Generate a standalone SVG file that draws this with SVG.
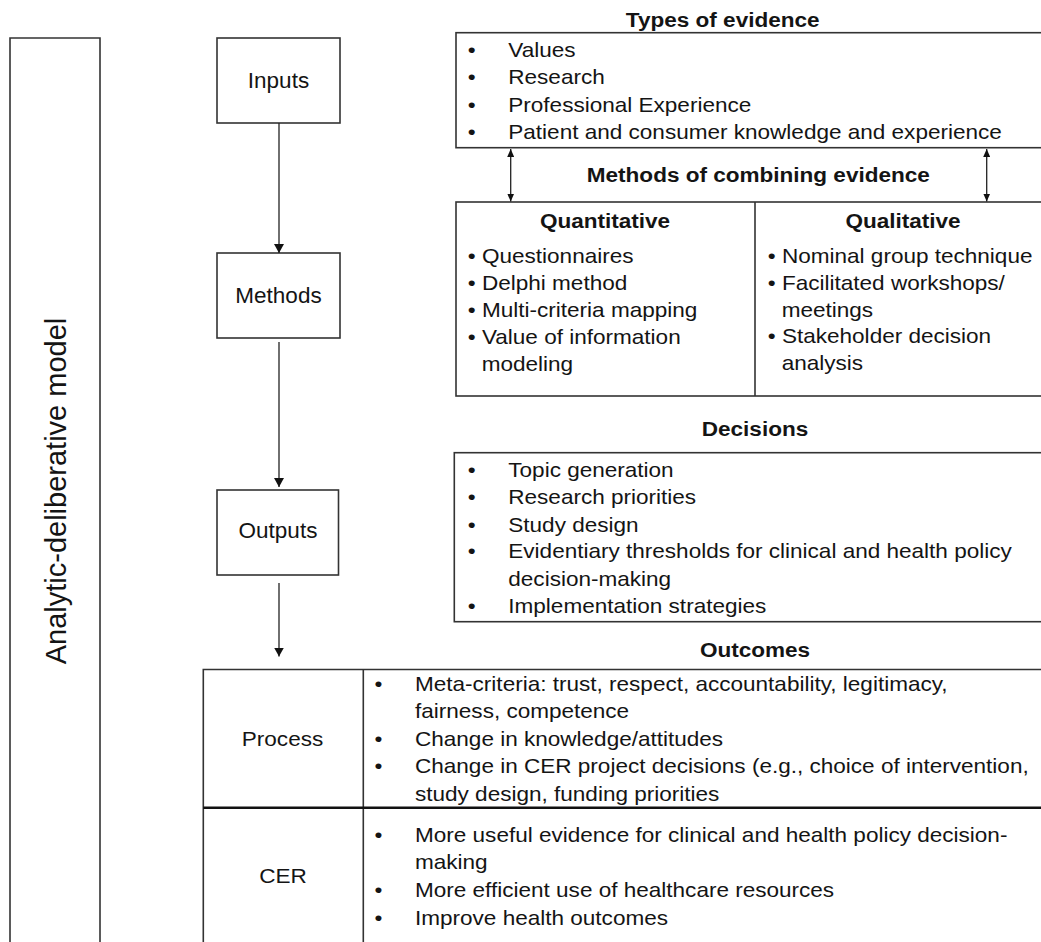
<svg xmlns="http://www.w3.org/2000/svg" width="1041" height="942" viewBox="0 0 1041 942">
<style>
  .t { font-family: "Liberation Sans", Arial, sans-serif; font-size: 20.5px; fill: #141414; }
  .b { font-weight: bold; }
  .c { text-anchor: middle; }
  .lab { font-family: "Liberation Sans", Arial, sans-serif; font-size: 22.5px; fill: #141414; text-anchor: middle; }
  .rot { font-family: "Liberation Sans", Arial, sans-serif; font-size: 29px; fill: #141414; text-anchor: middle; }
  .box { fill: #ffffff; stroke: #333333; stroke-width: 1.6; }
  .ln { fill: none; stroke: #333333; stroke-width: 1.6; }
  .con { fill: none; stroke: #222222; stroke-width: 1.3; }
</style>
<defs>
  <marker id="ah" markerUnits="userSpaceOnUse" viewBox="0 0 9 10" markerWidth="9" markerHeight="10" refX="9" refY="5" orient="auto">
    <path d="M0,0 L9,5 L0,10 z" fill="#111111"/>
  </marker>
  <marker id="ahs" markerUnits="userSpaceOnUse" viewBox="0 0 8 7" markerWidth="8" markerHeight="7" refX="8" refY="3.5" orient="auto-start-reverse">
    <path d="M0,0 L8,3.5 L0,7 z" fill="#111111"/>
  </marker>
</defs>
<rect x="0" y="0" width="1041" height="942" fill="#ffffff"/>

<g id="model">
  <path class="ln" d="M10,944 V38 H100 V944"/>
  <text class="rot" transform="translate(66,491) rotate(-90)">Analytic-deliberative model</text>
</g>

<g id="inputs">
  <rect class="box" x="217" y="38" width="123" height="85"/>
  <text class="lab" x="278.5" y="88.3">Inputs</text>
</g>
<g id="methods">
  <rect class="box" x="217" y="253" width="123" height="85"/>
  <text class="lab" x="278.5" y="303.3">Methods</text>
</g>
<g id="outputs">
  <rect class="box" x="217" y="490" width="121.5" height="85"/>
  <text class="lab" x="278" y="538.3">Outputs</text>
</g>

<g id="types">
  <text class="t b c" transform="translate(722.7,26.7) scale(1.1,1)">Types of evidence</text>
  <rect class="box" x="456" y="32.7" width="587" height="115"/>
  <text class="t" transform="translate(467.8,56.7) scale(1.1,1)">•</text>
  <text class="t" transform="translate(508.3,56.7) scale(1.1,1)">Values</text>
  <text class="t" transform="translate(467.8,84.3) scale(1.1,1)">•</text>
  <text class="t" transform="translate(508.3,84.3) scale(1.1,1)">Research</text>
  <text class="t" transform="translate(467.8,111.7) scale(1.1,1)">•</text>
  <text class="t" transform="translate(508.3,111.7) scale(1.1,1)">Professional Experience</text>
  <text class="t" transform="translate(467.8,139) scale(1.1,1)">•</text>
  <text class="t" transform="translate(508.3,139) scale(1.1,1)">Patient and consumer knowledge and experience</text>
</g>

<g id="combining">
  <text class="t b c" transform="translate(758.3,181.7) scale(1.1,1)">Methods of combining evidence</text>
  <rect class="box" x="456" y="202" width="587" height="194"/>
  <line class="ln" x1="755" y1="202" x2="755" y2="396"/>
  <text class="t b c" transform="translate(605,228.3) scale(1.1,1)">Quantitative</text>
  <text class="t" transform="translate(467.8,263) scale(1.1,1)">• Questionnaires</text>
  <text class="t" transform="translate(467.8,290) scale(1.1,1)">• Delphi method</text>
  <text class="t" transform="translate(467.8,317) scale(1.1,1)">• Multi-criteria mapping</text>
  <text class="t" transform="translate(467.8,343.5) scale(1.1,1)">• Value of information</text>
  <text class="t" transform="translate(481.7,370.5) scale(1.1,1)">modeling</text>
  <text class="t b c" transform="translate(903,228.3) scale(1.1,1)">Qualitative</text>
  <text class="t" transform="translate(767.8,263.3) scale(1.1,1)">• Nominal group technique</text>
  <text class="t" transform="translate(767.8,290) scale(1.1,1)">• Facilitated workshops/</text>
  <text class="t" transform="translate(781.7,316.7) scale(1.1,1)">meetings</text>
  <text class="t" transform="translate(767.8,343.3) scale(1.1,1)">• Stakeholder decision</text>
  <text class="t" transform="translate(781.7,370) scale(1.1,1)">analysis</text>
</g>

<g id="decisions">
  <text class="t b c" transform="translate(755,435.5) scale(1.1,1)">Decisions</text>
  <rect class="box" x="454.3" y="452.7" width="589" height="169"/>
  <text class="t" transform="translate(467.8,476.7) scale(1.1,1)">•</text>
  <text class="t" transform="translate(508.3,476.7) scale(1.1,1)">Topic generation</text>
  <text class="t" transform="translate(467.8,504) scale(1.1,1)">•</text>
  <text class="t" transform="translate(508.3,504) scale(1.1,1)">Research priorities</text>
  <text class="t" transform="translate(467.8,531.7) scale(1.1,1)">•</text>
  <text class="t" transform="translate(508.3,531.7) scale(1.1,1)">Study design</text>
  <text class="t" transform="translate(467.8,558.3) scale(1.1,1)">•</text>
  <text class="t" transform="translate(508.3,558.3) scale(1.1,1)">Evidentiary thresholds for clinical and health policy</text>
  <text class="t" transform="translate(508.3,585.7) scale(1.1,1)">decision-making</text>
  <text class="t" transform="translate(467.8,613.3) scale(1.1,1)">•</text>
  <text class="t" transform="translate(508.3,613.3) scale(1.1,1)">Implementation strategies</text>
</g>

<g id="outcomes">
  <text class="t b c" transform="translate(755,656.5) scale(1.1,1)">Outcomes</text>
  <path class="ln" d="M203.3,944 V669.5 H1043"/>
  <line class="ln" x1="363.3" y1="669.5" x2="363.3" y2="944"/>
  <line x1="203.3" y1="807.7" x2="1043" y2="807.7" stroke="#111111" stroke-width="2.6"/>
  <text class="t c" transform="translate(282.5,746) scale(1.1,1)">Process</text>
  <text class="t" transform="translate(374.4,690.7) scale(1.1,1)">•</text>
  <text class="t" transform="translate(415,690.7) scale(1.1,1)">Meta-criteria: trust, respect, accountability, legitimacy,</text>
  <text class="t" transform="translate(415,717.7) scale(1.1,1)">fairness, competence</text>
  <text class="t" transform="translate(374.4,746) scale(1.1,1)">•</text>
  <text class="t" transform="translate(415,746) scale(1.1,1)">Change in knowledge/attitudes</text>
  <text class="t" transform="translate(374.4,773.3) scale(1.1,1)">•</text>
  <text class="t" transform="translate(415,773.3) scale(1.1,1)">Change in CER project decisions (e.g., choice of intervention,</text>
  <text class="t" transform="translate(415,800.7) scale(1.1,1)">study design, funding priorities</text>
  <text class="t c" transform="translate(283,883.3) scale(1.1,1)">CER</text>
  <text class="t" transform="translate(374.4,841.7) scale(1.1,1)">•</text>
  <text class="t" transform="translate(415,841.7) scale(1.1,1)">More useful evidence for clinical and health policy decision-</text>
  <text class="t" transform="translate(415,869.3) scale(1.1,1)">making</text>
  <text class="t" transform="translate(374.4,896.7) scale(1.1,1)">•</text>
  <text class="t" transform="translate(415,896.7) scale(1.1,1)">More efficient use of healthcare resources</text>
  <text class="t" transform="translate(374.4,925) scale(1.1,1)">•</text>
  <text class="t" transform="translate(415,925) scale(1.1,1)">Improve health outcomes</text>
</g>

<g id="connectors">
  <line class="con" x1="279" y1="123" x2="279" y2="253" marker-end="url(#ah)"/>
  <line class="con" x1="279" y1="342" x2="279" y2="487" marker-end="url(#ah)"/>
  <line class="con" x1="279" y1="583" x2="279" y2="656.5" marker-end="url(#ah)"/>
  <line class="con" x1="510.7" y1="149" x2="510.7" y2="201.5" marker-start="url(#ahs)" marker-end="url(#ahs)"/>
  <line class="con" x1="986.7" y1="149" x2="986.7" y2="201.5" marker-start="url(#ahs)" marker-end="url(#ahs)"/>
</g>
</svg>
